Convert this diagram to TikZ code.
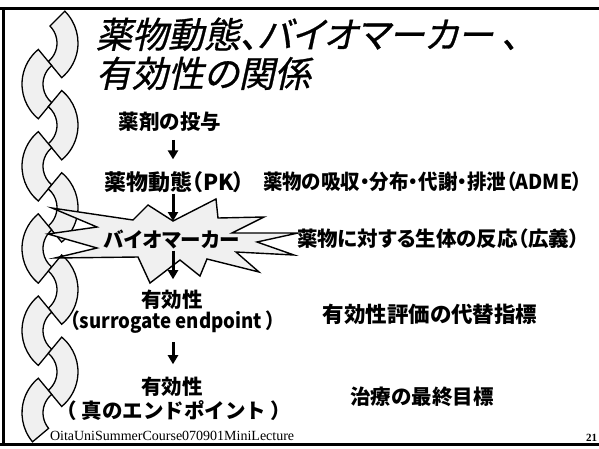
\documentclass[tikz,border=0pt]{standalone}
\usepackage{fontspec}
\usetikzlibrary{arrows.meta,calc}
\newfontfamily\jpfont{Noto Sans CJK JP}[RawFeature=+palt]
\newfontfamily\jpwide{Noto Sans CJK JP}
\newfontfamily\jptitle{Noto Sans CJK JP}[FakeSlant=0.22,FakeBold=0.8,RawFeature=+palt]
\newfontfamily\footfont{Liberation Serif}
\begin{document}
\begin{tikzpicture}[x=1pt,y=-1pt,
  every node/.style={inner sep=0pt,outer sep=0pt},
  body/.style={font=\jpfont\bfseries\fontsize{20.5}{24}\selectfont},
  widebody/.style={font=\jpwide\bfseries\fontsize{20.5}{24}\selectfont},
  titletext/.style={font=\jptitle\fontsize{36}{42}\selectfont,anchor=base west},
  flow/.style={line width=3pt,-{Triangle[length=9pt,width=10pt]}},
  chainpiece/.style={draw=black,line width=1.3pt,fill=gray!12,line join=miter},
  burst/.style={draw=black,line width=1.4pt,fill=gray!12,line join=miter}]

\useasboundingbox (0,0) rectangle (599,448);
\clip (0,0) rectangle (599,448);
\fill[white] (0,0) rectangle (599,448);

% slide frame
\draw[line width=3pt] (0,8) -- (599,8);
\draw[line width=2.5pt] (3.5,8) -- (3.5,444.5);
\draw[line width=3pt] (0,444.5) -- (599,444.5);

% chain of crescent pieces down the left margin
\foreach \k in {0,...,9}{
  \pgfmathsetmacro{\cy}{43+41.1*\k}
  \pgfmathsetmacro{\cx}{ifthenelse(mod(\k,2)==0,33,67)}
  \pgfmathsetmacro{\aa}{ifthenelse(mod(\k,2)==0,ifthenelse(\k==0,-45,-50.41),ifthenelse(\k==9,140,129.59))}
  \pgfmathsetmacro{\ab}{ifthenelse(mod(\k,2)==0,50.41,230.41)}
  \draw[chainpiece] ($(\cx,\cy)+(\aa:45)$) arc[start angle=\aa,end angle=\ab,radius=45]
    -- ($(\cx,\cy)+(\ab:24)$) arc[start angle=\ab,end angle=\aa,radius=24] -- cycle;
}

% title
\node[titletext] (t1) at (96,48) {薬物動態、バイオマーカー 、};
\node[titletext] (t2) at (96,87) {有効性の関係};

% starburst
\draw[burst] (52,208) -- (133,220) -- (148,205) -- (173,221) coordinate (btop)
  -- (216,199) -- (218,218) -- (264,217) -- (232,233) -- (298,233)
  -- (257,242) -- (294,255) -- (236,252) -- (259,272) -- (207,259)
  -- (200,276) -- (180,260) -- (150,283) -- (138,257) -- (55,258)
  -- (97,248) -- (48,234) -- (97,227) -- cycle;
\node[body] (bm) at (172,240) {バイオマーカー};

% flow texts
\node[body] (dose) at (170,122) {薬剤の投与};
\node[body,font=\jpfont\bfseries\fontsize{22}{26}\selectfont,anchor=west] (pk) at (104,182) {薬物動態（PK）};
\node[body,anchor=west,xscale=0.95,transform shape] (adme) at (263,182) {薬物の吸収・分布・代謝・排泄（ADME）};
\node[body,anchor=west] (resp) at (297,239) {薬物に対する生体の反応（広義）};
\node[body] (eff1) at (172,300) {有効性};
\node[body,xscale=0.91,transform shape] (sur) at (173,322) {（surrogate endpoint ）};
\node[body] (eff2) at (172,387) {有効性};
\node[widebody] (true) at (174,411) {（ 真のエンドポイント ）};
\node[body,font=\jpfont\bfseries\fontsize{21.5}{25}\selectfont] (subst) at (430,314) {有効性評価の代替指標};
\node[body] (goal) at (422,397) {治療の最終目標};

% footer
\node[font=\footfont\fontsize{14}{16}\selectfont,anchor=base west] (foot) at (50,440) {OitaUniSummerCourse070901MiniLecture};
\node[font=\footfont\bfseries\fontsize{11}{13}\selectfont,anchor=base east] (pg) at (597,441) {21};

% arrows
\coordinate (ax) at (173,0);
\draw[flow,shorten <=8pt,shorten >=12pt] (dose.south -| ax) -- (pk.north -| ax);
\draw[flow,shorten <=1pt] (pk.south -| ax) -- (btop);
\draw[flow,shorten <=1pt,shorten >=11pt] (bm.south -| ax) -- (eff1.north -| ax);
\draw[flow,shorten <=9pt,shorten >=13pt] (sur.south -| ax) -- (eff2.north -| ax);
\end{tikzpicture}
\end{document}
